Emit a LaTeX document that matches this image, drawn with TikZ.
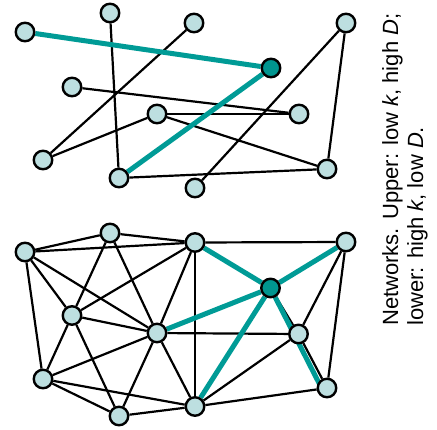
\documentclass[tikz,border=0pt]{standalone}
\usepackage{fontspec}
\setmainfont{Liberation Sans}
\usetikzlibrary{backgrounds}
\definecolor{nodefill}{HTML}{BDDFE0}
\definecolor{hubfill}{HTML}{00958F}
\definecolor{pathteal}{HTML}{009B96}
\tikzset{
  vertex/.style={circle, draw=black, line width=2.4pt, fill=nodefill, minimum size=18.5pt, inner sep=0pt},
  hub/.style={vertex, fill=hubfill},
  link/.style={draw=black, line width=2.2pt},
  route/.style={draw=pathteal, line width=5pt},
}
\begin{document}
\begin{tikzpicture}[x=1pt, y=-1pt]
\useasboundingbox (0,0) rectangle (437,429);

% upper network: few links per node, long paths
\node[vertex] (A) at (25,32) {};
\node[vertex] (B) at (110,13) {};
\node[vertex] (C) at (194,23) {};
\node[vertex] (D) at (346,23) {};
\node[hub]    (H) at (271,68) {};
\node[vertex] (E) at (72,87) {};
\node[vertex] (F) at (157,114) {};
\node[vertex] (G) at (299,114) {};
\node[vertex] (I) at (43,160) {};
\node[vertex] (J) at (119,178) {};
\node[vertex] (K) at (195,188) {};
\node[vertex] (L) at (327,169) {};

% lower network: many links per node, short paths
\node[vertex] (a) at (25,252) {};
\node[vertex] (b) at (110,233) {};
\node[vertex] (c) at (195,242.5) {};
\node[vertex] (d) at (346,242) {};
\node[hub]    (h) at (270.5,288) {};
\node[vertex] (e) at (72,315.5) {};
\node[vertex] (f) at (157,333) {};
\node[vertex] (g) at (298.5,334) {};
\node[vertex] (i) at (43,379) {};
\node[vertex] (j) at (119,416) {};
\node[vertex] (k) at (195,406.5) {};
\node[vertex] (l) at (327,388) {};
% the h--l route ends a little left of the centre of l
\coordinate (lend) at (321.5,388);

\begin{pgfonlayer}{background}
  % upper links
  \foreach \u/\v in {B/J, C/I, E/G, F/G, F/I, F/L, D/K, D/L, J/L}
    \path[link] (\u) -- (\v);
  \foreach \u/\v in {A/H, H/J}
    \path[route] (\u) -- (\v);
  % lower links
  \foreach \u/\v in {a/b, a/c, b/c, a/i, a/e, a/f, b/e, b/f, c/e, c/f, c/k, c/d,
                     d/g, d/l, e/f, e/i, e/j, f/i, f/j, f/k, f/g, h/g, g/k, g/l,
                     i/j, i/k, j/k, k/l}
    \path[link] (\u) -- (\v);
  \foreach \u/\v in {c/h, d/h, f/h, h/k}
    \path[route] (\u) -- (\v);
  \path[route] (h) -- (lend);
\end{pgfonlayer}

% caption, set sideways
\node[rotate=90, anchor=north west, inner sep=0pt, align=left,
      font=\fontsize{22}{25}\selectfont] (cap) at (382,326)
  {Networks. Upper: low \textit{k}, high \textit{D};\\
   lower: high \textit{k}, low \textit{D}.};
\end{tikzpicture}
\end{document}
